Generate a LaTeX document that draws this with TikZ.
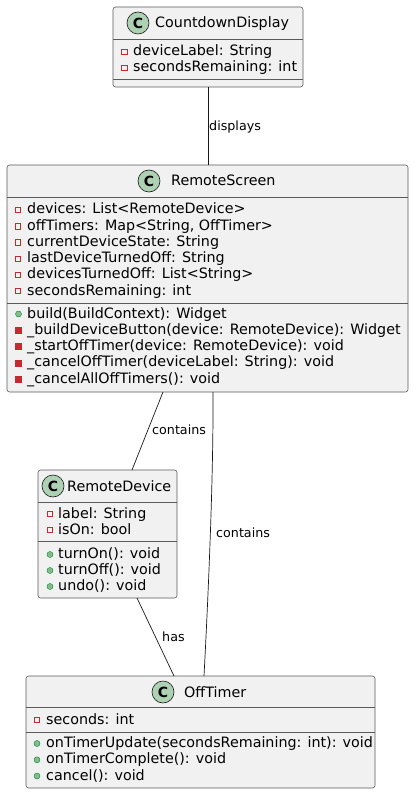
\documentclass[tikz,border=0pt]{standalone}
\usepackage{fontspec}
\setmainfont{DejaVu Sans}
\usetikzlibrary{calc}
\definecolor{boxfill}{HTML}{F1F1F1}
\definecolor{boxline}{HTML}{181818}
\definecolor{sepcol}{HTML}{5A5A5A}
\definecolor{circfill}{HTML}{ADD1B2}
\definecolor{privred}{HTML}{C82930}
\definecolor{pubfill}{HTML}{84BE84}
\definecolor{publine}{HTML}{038048}
\tikzset{
  umlbox/.style={draw=sepcol, fill=boxfill, rounded corners=2.5pt, line width=0.55pt, inner sep=0pt, outer sep=0pt, anchor=north west},
  sepline/.style={draw=sepcol, line width=0.55pt},
  classicon/.style={circle, draw=boxline, fill=circfill, line width=0.6pt, minimum size=22pt, inner sep=0pt, font=\fontsize{14}{14}\selectfont\bfseries},
  title/.style={anchor=base west, inner sep=0pt, font=\fontsize{14.3}{16}\selectfont},
  member/.style={anchor=base west, inner sep=0pt, font=\fontsize{14.3}{16}\selectfont},
  privfield/.style={rectangle, draw=privred, line width=0.6pt, minimum size=5.5pt, inner sep=0pt},
  privmeth/.style={rectangle, draw=privred, fill=privred, line width=0.4pt, minimum size=6pt, inner sep=0pt},
  pubmeth/.style={circle, draw=publine, fill=pubfill, line width=0.4pt, minimum size=6pt, inner sep=0pt},
  conn/.style={draw=boxline, line width=0.7pt},
  elabel/.style={anchor=base west, inner sep=0pt, font=\fontsize{12.7}{14}\selectfont},
}
\begin{document}
\begin{tikzpicture}[x=1pt, y=-1pt]
\useasboundingbox (0,0) rectangle (414,794);

% ---------- CountdownDisplay ----------
\node[umlbox, minimum width=190pt, minimum height=80pt] (cd) at (113,7) {};
\draw[sepline] (113,39) -- (303,39);
\draw[sepline] (113,79) -- (303,79);
\node[classicon] (cdc) at (138,23) {C};
\node[title] (cdt) at (155,28) {CountdownDisplay};
\node[privfield] (cd1i) at (124.5,52) {};
\node[member] (cd1) at (133,56) {deviceLabel: String};
\node[privfield] (cd2i) at (124.5,68) {};
\node[member] (cd2) at (133,72) {secondsRemaining: int};

% ---------- RemoteScreen ----------
\node[umlbox, minimum width=401pt, minimum height=227pt] (rs) at (7,165) {};
\draw[sepline] (7,197) -- (408,197);
\draw[sepline] (7,303) -- (408,303);
\node[classicon] (rsc) at (149,181) {C};
\node[title] (rst) at (171,186) {RemoteScreen};
\node[privfield] (rs1i) at (18,210) {};
\node[member] (rs1) at (27,214) {devices: List<RemoteDevice>};
\node[privfield] (rs2i) at (18,226.2) {};
\node[member] (rs2) at (27,230.2) {offTimers: Map<String, OffTimer>};
\node[privfield] (rs3i) at (18,242.4) {};
\node[member] (rs3) at (27,246.4) {currentDeviceState: String};
\node[privfield] (rs4i) at (18,258.6) {};
\node[member] (rs4) at (27,262.6) {lastDeviceTurnedOff: String};
\node[privfield] (rs5i) at (18,274.8) {};
\node[member] (rs5) at (27,278.8) {devicesTurnedOff: List<String>};
\node[privfield] (rs6i) at (18,291) {};
\node[member] (rs6) at (27,295) {secondsRemaining: int};
\node[pubmeth] (rs7i) at (18.5,314) {};
\node[member] (rs7) at (27,318) {build(BuildContext): Widget};
\node[privmeth] (rs8i) at (18.5,330.3) {};
\node[member] (rs8) at (27,334.3) {\_buildDeviceButton(device: RemoteDevice): Widget};
\node[privmeth] (rs9i) at (18.5,346.6) {};
\node[member] (rs9) at (27,350.6) {\_startOffTimer(device: RemoteDevice): void};
\node[privmeth] (rs10i) at (18.5,362.9) {};
\node[member] (rs10) at (27,366.9) {\_cancelOffTimer(deviceLabel: String): void};
\node[privmeth] (rs11i) at (18.5,379.2) {};
\node[member] (rs11) at (27,383.2) {\_cancelAllOffTimers(): void};

% ---------- RemoteDevice ----------
\node[umlbox, minimum width=139pt, minimum height=128pt] (rd) at (38,470) {};
\draw[sepline] (38,502) -- (177,502);
\draw[sepline] (38,541) -- (177,541);
\node[classicon] (rdc) at (53,486) {C};
\node[title] (rdt) at (67,491) {RemoteDevice};
\node[privfield] (rd1i) at (50,514) {};
\node[member] (rd1) at (58,518) {label: String};
\node[privfield] (rd2i) at (50,530) {};
\node[member] (rd2) at (58,534) {isOn: bool};
\node[pubmeth] (rd3i) at (50,554.5) {};
\node[member] (rd3) at (58,558.5) {turnOn(): void};
\node[pubmeth] (rd4i) at (50,570.5) {};
\node[member] (rd4) at (58,574.5) {turnOff(): void};
\node[pubmeth] (rd5i) at (50,586.5) {};
\node[member] (rd5) at (58,590.5) {undo(): void};

% ---------- OffTimer ----------
\node[umlbox, minimum width=349pt, minimum height=112pt] (ot) at (26,676) {};
\draw[sepline] (26,707) -- (375,707);
\draw[sepline] (26,732) -- (375,732);
\node[classicon] (otc) at (163,692) {C};
\node[title] (ott) at (184,697) {OffTimer};
\node[privfield] (ot1i) at (37,720) {};
\node[member] (ot1) at (46,724) {seconds: int};
\node[pubmeth] (ot2i) at (37,743.5) {};
\node[member] (ot2) at (46,747.5) {onTimerUpdate(secondsRemaining: int): void};
\node[pubmeth] (ot3i) at (37,759.8) {};
\node[member] (ot3) at (46,763.8) {onTimerComplete(): void};
\node[pubmeth] (ot4i) at (37,776) {};
\node[member] (ot4) at (46,780) {cancel(): void};

% ---------- Connectors ----------
\draw[conn] (cd.south) -- (cd.south |- rs.north);
\node[elabel] (l1) at (209,131) {displays};

\draw[conn] ([xshift=-44.5pt]rs.south) -- ([xshift=24.5pt]rd.north);
\node[elabel] (l2) at (152,434) {contains};

\draw[conn] ([xshift=5.5pt]rs.south) .. controls (213.5,480) and (208,600) .. ([xshift=3.5pt]ot.north);
\node[elabel] (l3) at (216,537) {contains};

\draw[conn] ([xshift=29.5pt]rd.south) -- ([xshift=-26.5pt]ot.north);
\node[elabel] (l4) at (162,641) {has};
\end{tikzpicture}
\end{document}
